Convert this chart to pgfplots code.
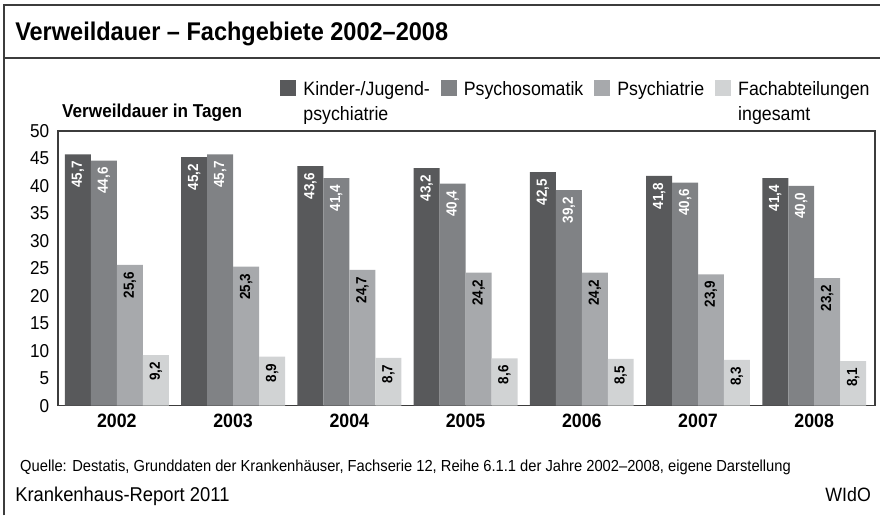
\documentclass[border=0pt]{standalone}
\usepackage{fontspec}
\setmainfont[FakeStretch=0.92]{Liberation Sans}
\usepackage{pgfplots}
\pgfplotsset{compat=1.18}
\definecolor{cA}{HTML}{58595B}
\definecolor{cB}{HTML}{808285}
\definecolor{cC}{HTML}{A7A9AC}
\definecolor{cD}{HTML}{D1D3D4}
\definecolor{frm}{HTML}{3C3C3C}

\begin{document}
\begin{tikzpicture}[x=0.75pt,y=0.75pt]
\path (0,0) rectangle (881,516);
% outer frame and title band
\draw[frm, line width=1.3pt] (4,0) -- (4,511) -- (881,511);
\draw[frm, line width=1.1pt] (4,458) -- (881,458);
\node[anchor=base west, inner sep=0pt, font=\bfseries\fontsize{19.2}{22}\selectfont] at (15,475) {Verweildauer – Fachgebiete 2002–2008};
\node[anchor=base west, inner sep=0pt, font=\bfseries\fontsize{14}{16}\selectfont] at (62,398) {Verweildauer in Tagen};

\begin{axis}[
  at={(43.5pt,82.5pt)}, anchor=south west,
  scale only axis, width=613.5pt, height=206.25pt,
  xmin=-0.507, xmax=6.524, ymin=0, ymax=50,
  ybar=0pt, bar width=19.5pt,
  xtick={0,...,6}, xticklabels={2002,2003,2004,2005,2006,2007,2008},
  ytick={0,5,...,50},
  major tick length=0pt,
  axis line style={frm, line width=1pt},
  /pgf/number format/assume math mode=true,
  yticklabel style={font=\fontsize{14}{16}\selectfont, xshift=-3pt},
  xticklabel style={font=\bfseries\fontsize{14.5}{16}\selectfont, yshift=-3pt},
  nodes near coords,
  every node near coord/.append style={rotate=90, anchor=east, inner sep=0pt, inner xsep=5pt,
    font=\bfseries\fontsize{11}{12}\selectfont,
    /pgf/number format/use comma, /pgf/number format/fixed,
    /pgf/number format/fixed zerofill, /pgf/number format/precision=1,
    /pgf/number format/assume math mode=true},
  legend columns=4,
  legend style={at={(0.2667,1.20)}, anchor=north west, draw=none, fill=none,
    font=\fontsize{14.5}{19}\selectfont, nodes={align=left},
    /tikz/every odd column/.append style={column sep=3.5pt},
    /tikz/every even column/.append style={column sep=6pt}},
  legend image code/.code={\path[#1] (0pt,5pt) rectangle (12pt,17pt);},
]
\addplot[fill=cA, draw=none, every node near coord/.append style={text=white}]
  coordinates {(0,45.7) (1,45.2) (2,43.6) (3,43.2) (4,42.5) (5,41.8) (6,41.4)};
\addplot[fill=cB, draw=none, every node near coord/.append style={text=white}]
  coordinates {(0,44.6) (1,45.7) (2,41.4) (3,40.4) (4,39.2) (5,40.6) (6,40.0)};
\addplot[fill=cC, draw=none]
  coordinates {(0,25.6) (1,25.3) (2,24.7) (3,24.2) (4,24.2) (5,23.9) (6,23.2)};
\addplot[fill=cD, draw=none]
  coordinates {(0,9.2) (1,8.9) (2,8.7) (3,8.6) (4,8.5) (5,8.3) (6,8.1)};
\legend{{Kinder-/Jugend-\\psychiatrie},{Psychosomatik\\\mbox{}},{Psychiatrie\\\mbox{}},{Fachabteilungen\\ingesamt}}
\end{axis}

\node[anchor=base west, inner sep=0pt, font=\fontsize{12}{14}\selectfont] at (20,44) {Quelle: Destatis, Grunddaten der Krankenhäuser, Fachserie 12, Reihe 6.1.1 der Jahre 2002–2008, eigene Darstellung};
\node[anchor=base west, inner sep=0pt, font=\fontsize{15}{17}\selectfont] at (15,14) {Krankenhaus-Report 2011};
\node[anchor=base east, inner sep=0pt, font=\fontsize{14.5}{16}\selectfont] at (872,14) {WIdO};
\end{tikzpicture}
\end{document}
